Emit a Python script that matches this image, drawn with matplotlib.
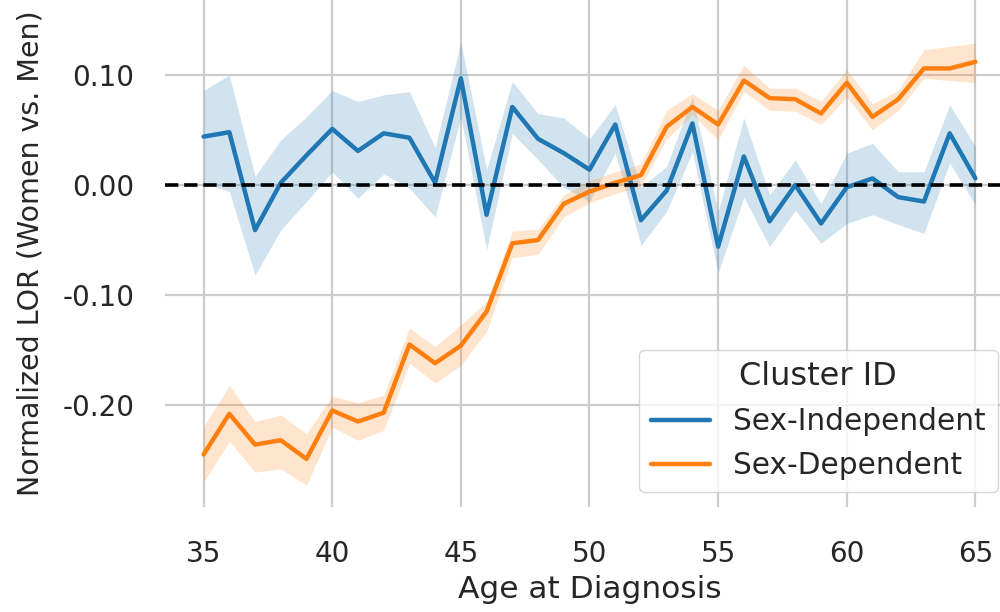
import numpy as np
import matplotlib.pyplot as plt
import seaborn as sns

# data
ages = list(range(35, 66))

indep_mean = [0.044, 0.048, -0.041, 0.002, 0.027, 0.051, 0.031, 0.047, 0.043, 0.002,
              0.097, -0.027, 0.071, 0.042, 0.029, 0.014, 0.055, -0.032, -0.005, 0.056,
              -0.056, 0.026, -0.033, 0.000, -0.035, -0.002, 0.006, -0.011, -0.015, 0.047,
              0.006]
indep_low = [0.002, -0.006, -0.082, -0.041, -0.015, 0.012, -0.012, 0.010, -0.003, -0.029,
             0.062, -0.059, 0.047, 0.023, -0.002, -0.015, 0.029, -0.055, -0.024, 0.030,
             -0.080, -0.011, -0.056, -0.023, -0.053, -0.035, -0.027, -0.036, -0.044, 0.020,
             -0.018]
indep_high = [0.086, 0.100, 0.008, 0.041, 0.062, 0.086, 0.076, 0.082, 0.085, 0.034,
              0.130, 0.014, 0.094, 0.065, 0.061, 0.042, 0.073, -0.002, 0.017, 0.080,
              -0.024, 0.061, -0.009, 0.023, -0.017, 0.029, 0.038, 0.012, 0.012, 0.073,
              0.035]

dep_mean = [-0.245, -0.208, -0.236, -0.232, -0.249, -0.205, -0.215, -0.207, -0.145, -0.162,
            -0.146, -0.115, -0.053, -0.050, -0.017, -0.006, 0.002, 0.009, 0.053, 0.071,
            0.055, 0.095, 0.079, 0.078, 0.065, 0.093, 0.062, 0.078, 0.106, 0.106,
            0.112]
dep_low = [-0.270, -0.233, -0.261, -0.258, -0.273, -0.220, -0.232, -0.223, -0.162, -0.180,
           -0.164, -0.133, -0.066, -0.063, -0.029, -0.016, -0.008, -0.001, 0.042, 0.064,
           0.041, 0.085, 0.068, 0.067, 0.055, 0.080, 0.050, 0.068, 0.097, 0.095,
           0.093]
dep_high = [-0.220, -0.182, -0.215, -0.209, -0.226, -0.192, -0.198, -0.191, -0.130, -0.147,
            -0.127, -0.106, -0.042, -0.040, -0.009, 0.004, 0.012, 0.019, 0.068, 0.083,
            0.068, 0.109, 0.088, 0.088, 0.076, 0.105, 0.074, 0.086, 0.123, 0.126,
            0.129]

x_ticks = [35, 40, 45, 50, 55, 60, 65]
y_ticks = [0.10, 0.00, -0.10, -0.20]
y_tick_labels = ["0.10", "0.00", "-0.10", "-0.20"]

sns.set_theme(style="whitegrid")
plt.rcParams['font.family'] = ['DejaVu Sans']

fig = plt.figure(figsize=(10, 6.12), dpi=100)
ax = fig.add_axes([0.165, 0.1716, 0.849, 0.8284])

blue = "#1f77b4"
orange = "#ff7f0e"

ax.fill_between(ages, indep_low, indep_high, color=blue, alpha=0.2, linewidth=0)
ax.plot(ages, indep_mean, color=blue, lw=3.2, label="Sex-Independent")
ax.fill_between(ages, dep_low, dep_high, color=orange, alpha=0.2, linewidth=0)
ax.plot(ages, dep_mean, color=orange, lw=3.2, label="Sex-Dependent")

ax.axhline(0, color="black", ls="--", lw=2.6, zorder=3)

ax.set_xlim(33.5, 66.5)
ax.set_ylim(-0.2927, 0.1682)
ax.set_xticks(x_ticks)
ax.set_yticks(y_ticks)
ax.set_yticklabels(y_tick_labels)

ax.grid(True, color=".8", lw=1.6)
for s in ax.spines.values():
    s.set_visible(False)
ax.tick_params(axis="both", length=6, width=1.2, color=".8", labelsize=20, labelcolor=".15")
ax.tick_params(axis="x", pad=18)
ax.tick_params(axis="y", pad=16)

ax.set_xlabel("Age at Diagnosis", fontsize=22.5, color=".15", labelpad=5)
ax.set_ylabel("Normalized LOR (Women vs. Men)", fontsize=20.5, color=".15", labelpad=13)

leg = ax.legend(title="Cluster ID", loc="lower right", bbox_to_anchor=(0.981, 0.03),
                borderaxespad=0, fontsize=21.3, title_fontsize=23, frameon=True,
                handlelength=2.0)
leg.get_frame().set_edgecolor(".8")

fig.savefig("out.png", dpi=100)
